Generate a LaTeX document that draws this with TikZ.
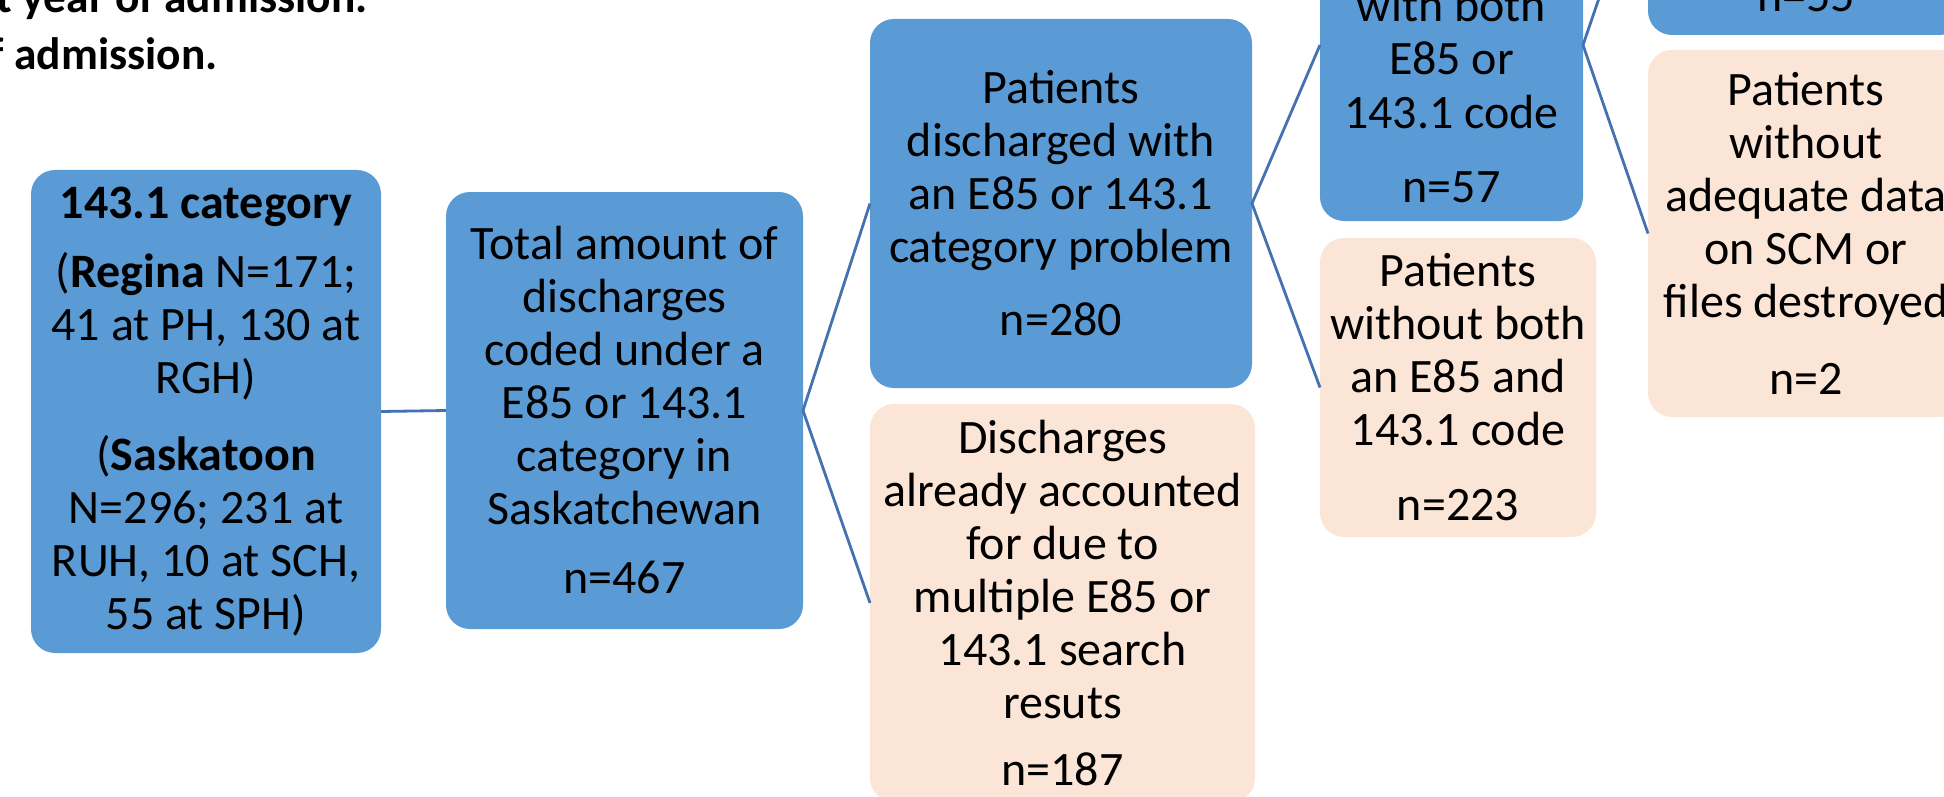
\documentclass[tikz,border=0pt]{standalone}
\usepackage{fontspec}
\setmainfont{Carlito}
\definecolor{boxblue}{RGB}{91,155,213}
\definecolor{boxpeach}{RGB}{251,229,214}
\definecolor{linkblue}{RGB}{68,114,176}
\begin{document}
\begin{tikzpicture}[x=0.5pt,y=-0.5pt,
  box/.style={rounded corners=12pt, inner sep=0pt, outer sep=0pt, align=center,
    font=\fontsize{24}{26.5}\selectfont, text=black},
  bluebox/.style={box, fill=boxblue},
  peachbox/.style={box, fill=boxpeach},
  link/.style={draw=linkblue, line width=1.4pt},
  headtxt/.style={inner sep=0pt, font=\fontsize{22.7}{27}\selectfont\bfseries, anchor=base east},
  linetxt/.style={inner sep=0pt, font=\fontsize{24}{26.5}\selectfont, anchor=base}
]
\useasboundingbox (0,0) rectangle (1944,797);
\clip (0,0) rectangle (1944,797);

% heading fragments
\node[headtxt] (h1) at (368,13) {t year of admission.};
\node[headtxt] (h2) at (218,70) {f admission.};

% boxes
\node[bluebox, minimum width=175pt, minimum height=241.5pt] (a) at (206,411.5)
  {\textbf{143.1 category}\\[8pt]
   (\textbf{Regina} N=171;\\41 at PH, 130 at\\RGH)\\[12pt]
   (\textbf{Saskatoon}\\N=296; 231 at\\RUH, 10 at SCH,\\55 at SPH)};
\node[bluebox, minimum width=178.5pt, minimum height=218.5pt] (b) at (624.5,410.5)
  {Total amount of\\discharges\\coded under a\\E85 or 143.1\\category in\\Saskatchewan\\[8pt]n=467};
\node[bluebox, minimum width=191pt, minimum height=184.5pt] (c) at (1061,203.5)
  {Patients\\discharged with\\an E85 or 143.1\\category problem\\[10pt]n=280};
\node[peachbox, minimum width=192.5pt, minimum height=199pt] (d) at (1062.5,603)
  {Discharges\\already accounted\\for due to\\multiple E85 or\\143.1 search\\resuts\\[7pt]n=187};
\node[bluebox, minimum width=131.5pt, minimum height=176pt] (e) at (1451.5,45) {};
\node[linetxt] (e1) at (1451.5,22) {with both};
\node[linetxt] (e2) at (1451.5,75) {E85 or};
\node[linetxt] (e3) at (1451.5,128) {143.1 code};
\node[linetxt] (e4) at (1451.5,202) {n=57};
\node[peachbox, minimum width=138pt, minimum height=149.5pt] (f) at (1458,387.5)
  {Patients\\without both\\an E85 and\\143.1 code\\[11pt]n=223};
\node[bluebox, minimum width=158pt, minimum height=180pt] (g) at (1806,-145) {};
\node[linetxt] (g1) at (1806,12) {n=55};
\node[peachbox, minimum width=158pt, minimum height=183.5pt] (h) at (1806,233.5)
  {Patients\\without\\adequate data\\on SCM or\\files destroyed\\[12pt]n=2};

% connectors
\draw[link] (a.east) -- (b.west);
\draw[link] (c.west) -- (b.east) -- (d.west);
\draw[link] (e.west) -- (c.east) -- (f.west);
\draw[link] (g.west) -- (e.east) -- (h.west);
\end{tikzpicture}
\end{document}
